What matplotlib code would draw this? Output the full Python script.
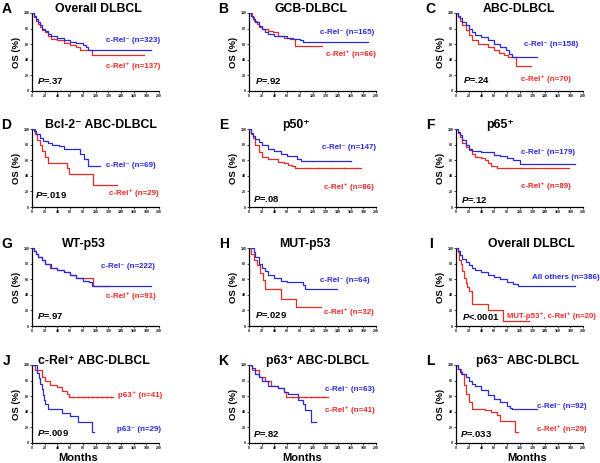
import numpy as np
import matplotlib
matplotlib.use('Agg')
import matplotlib.pyplot as plt

plt.rcParams['font.family'] = ['Liberation Sans', 'DejaVu Sans']
plt.rcParams['font.weight'] = 'bold'
plt.rcParams['mathtext.fontset'] = 'custom'
plt.rcParams['mathtext.it'] = 'Liberation Sans:italic:bold'
plt.rcParams['mathtext.rm'] = 'Liberation Sans:bold'

BLUE = '#2a2ad6'
RED = '#e62a25'

# ---- Kaplan-Meier step data (months, OS %) ----
A_neg_t = [0, 3, 6, 9, 12, 16, 20, 25, 30, 40, 50, 60, 70, 80, 85, 88, 187]
A_neg_s = [100, 96, 92, 88, 84, 80, 77, 73, 71, 68, 65, 63, 62, 59, 56, 53, 53]
A_pos_t = [0, 3, 6, 9, 12, 16, 20, 25, 30, 40, 50, 60, 70, 75, 95, 176]
A_pos_s = [100, 95, 90, 86, 82, 78, 75, 70, 67, 65, 62, 59, 56, 52, 46, 46]

B_neg_t = [0, 3, 6, 10, 15, 20, 25, 30, 40, 50, 60, 70, 80, 85, 188]
B_neg_s = [100, 96, 92, 88, 83, 79, 76, 73, 71, 70, 68, 67, 65, 63, 63]
B_pos_t = [0, 4, 8, 12, 16, 20, 30, 38, 45, 55, 65, 72, 115]
B_pos_s = [100, 95, 90, 86, 82, 80, 77, 75, 71, 68, 67, 58, 58]

C_neg_t = [0, 3, 6, 10, 15, 20, 25, 30, 40, 50, 60, 70, 78, 83, 88, 128]
C_neg_s = [100, 96, 93, 89, 84, 80, 76, 72, 69, 65, 60, 57, 53, 48, 43, 43]
C_pos_t = [0, 3, 6, 10, 15, 20, 25, 35, 50, 60, 68, 75, 82, 95, 118]
C_pos_s = [100, 95, 90, 85, 78, 72, 66, 60, 57, 52, 49, 46, 43, 32, 32]

D_neg_t = [0, 3, 7, 12, 18, 25, 32, 42, 50, 72, 76, 82, 88, 107]
D_neg_s = [100, 97, 93, 89, 85, 82, 80, 78, 75, 75, 68, 61, 53, 53]
D_pos_t = [0, 4, 8, 12, 16, 20, 25, 50, 55, 58, 96, 134]
D_pos_s = [100, 93, 86, 79, 72, 64, 57, 57, 50, 42, 28, 28]

E_neg_t = [0, 3, 6, 10, 15, 20, 30, 40, 50, 60, 70, 75, 82, 160]
E_neg_s = [100, 95, 91, 87, 83, 80, 75, 72, 68, 66, 65, 62, 59, 59]
E_pos_t = [0, 3, 6, 10, 15, 20, 30, 45, 55, 62, 68, 73, 177]
E_pos_s = [100, 94, 88, 79, 70, 64, 61, 58, 56, 54, 52, 50, 50]

F_neg_t = [0, 3, 6, 10, 15, 20, 25, 40, 60, 70, 80, 90, 100, 188]
F_neg_s = [100, 96, 92, 86, 80, 75, 72, 70, 67, 66, 63, 60, 55, 55]
F_pos_t = [0, 3, 6, 10, 15, 20, 25, 30, 40, 45, 50, 55, 65, 178]
F_pos_s = [100, 95, 90, 82, 77, 73, 68, 64, 63, 60, 56, 53, 50, 50]

G_neg_t = [0, 3, 6, 10, 15, 20, 30, 40, 50, 60, 70, 80, 90, 95, 187]
G_neg_s = [100, 96, 92, 88, 84, 80, 75, 72, 69, 66, 62, 58, 56, 51, 51]
G_pos_t = [0, 3, 6, 10, 15, 20, 28, 40, 50, 60, 70, 96, 120]
G_pos_s = [100, 96, 92, 88, 84, 80, 74, 72, 69, 65, 61, 51, 51]

H_neg_t = [0, 6, 8, 10, 15, 20, 25, 30, 40, 50, 60, 85, 88, 138]
H_neg_s = [100, 100, 95, 88, 80, 75, 70, 65, 61, 58, 56, 53, 47, 47]
H_pos_t = [0, 3, 8, 12, 18, 22, 25, 50, 74, 113]
H_pos_s = [100, 92, 85, 78, 68, 59, 47, 35, 24, 24]

I_neg_t = [0, 3, 6, 10, 15, 20, 25, 30, 40, 50, 60, 70, 80, 90, 98, 187]
I_neg_s = [100, 96, 91, 86, 82, 78, 75, 72, 69, 66, 63, 60, 57, 54, 51, 51]
I_pos_t = [0, 3, 5, 8, 10, 12, 15, 18, 20, 25, 50, 74, 115]
I_pos_s = [100, 95, 85, 80, 70, 62, 55, 50, 45, 28, 21, 7, 7]

J_pos_t = [0, 5, 15, 20, 28, 40, 48, 55, 58, 128]
J_pos_s = [100, 93, 85, 80, 75, 72, 67, 63, 59, 59]
J_neg_t = [0, 8, 11, 13, 15, 17, 19, 21, 25, 48, 60, 72, 95, 98]
J_neg_s = [100, 90, 83, 76, 69, 62, 55, 50, 43, 38, 35, 27, 14, 14]

K_neg_t = [0, 5, 10, 15, 20, 30, 45, 55, 62, 77, 85, 88, 98, 105]
K_neg_s = [100, 96, 88, 84, 80, 73, 70, 66, 63, 55, 50, 42, 27, 27]
K_pos_t = [0, 5, 15, 25, 35, 45, 55, 58, 125]
K_pos_s = [100, 93, 85, 80, 73, 70, 66, 59, 59]

L_neg_t = [0, 3, 6, 10, 15, 20, 25, 30, 40, 50, 60, 70, 80, 85, 88, 128]
L_neg_s = [100, 95, 91, 88, 84, 80, 76, 73, 68, 62, 56, 53, 48, 45, 43, 43]
L_pos_t = [0, 3, 8, 12, 15, 20, 25, 45, 55, 65, 70, 93, 98]
L_pos_s = [100, 95, 88, 75, 63, 52, 43, 42, 40, 36, 28, 14, 14]

# censored observations (months) on plateaus
J_pos_cens = [65, 72, 80, 88, 95, 102, 110, 118, 124]
K_pos_cens = [68, 78, 88, 98, 108, 118]
E_pos_cens = [90, 110, 130, 150, 170]
F_pos_cens = [80, 100, 120, 140, 160]

letters = list('ABCDEFGHIJKL')
titles = ['Overall DLBCL', 'GCB-DLBCL', 'ABC-DLBCL',
          'Bcl-2\u207b ABC-DLBCL', 'p50\u207a', 'p65\u207a',
          'WT-p53', 'MUT-p53', 'Overall DLBCL',
          'c-Rel\u207a ABC-DLBCL', 'p63\u207a ABC-DLBCL', 'p63\u207b ABC-DLBCL']
blue_labels = ['c-Rel\u207b (n=323)', 'c-Rel\u207b (n=165)', 'c-Rel\u207b (n=158)',
               'c-Rel\u207b (n=69)', 'c-Rel\u207b (n=147)', 'c-Rel\u207b (n=179)',
               'c-Rel\u207b (n=222)', 'c-Rel\u207b (n=64)', 'All others (n=386)',
               'p63\u207b (n=29)', 'c-Rel\u207b (n=63)', 'c-Rel\u207b (n=92)']
red_labels = ['c-Rel\u207a (n=137)', 'c-Rel\u207a (n=66)', 'c-Rel\u207a (n=70)',
              'c-Rel\u207a (n=29)', 'c-Rel\u207a (n=86)', 'c-Rel\u207a (n=89)',
              'c-Rel\u207a (n=91)', 'c-Rel\u207a (n=32)', 'MUT-p53\u207a, c-Rel\u207a (n=20)',
              'p63\u207a (n=41)', 'c-Rel\u207a (n=41)', 'c-Rel\u207a (n=29)']
p_values = ['=.37', '=.92', '=.24', '=.019', '=.08', '=.12',
            '=.97', '=.029', '<.0001', '=.009', '=.82', '=.033']

blue_curves = [(A_neg_t, A_neg_s), (B_neg_t, B_neg_s), (C_neg_t, C_neg_s),
               (D_neg_t, D_neg_s), (E_neg_t, E_neg_s), (F_neg_t, F_neg_s),
               (G_neg_t, G_neg_s), (H_neg_t, H_neg_s), (I_neg_t, I_neg_s),
               (J_neg_t, J_neg_s), (K_neg_t, K_neg_s), (L_neg_t, L_neg_s)]
red_curves = [(A_pos_t, A_pos_s), (B_pos_t, B_pos_s), (C_pos_t, C_pos_s),
              (D_pos_t, D_pos_s), (E_pos_t, E_pos_s), (F_pos_t, F_pos_s),
              (G_pos_t, G_pos_s), (H_pos_t, H_pos_s), (I_pos_t, I_pos_s),
              (J_pos_t, J_pos_s), (K_pos_t, K_pos_s), (L_pos_t, L_pos_s)]
red_cens = {4: E_pos_cens, 5: F_pos_cens, 9: J_pos_cens, 10: K_pos_cens}

# ---- layout (pixels) ----
W_PX, H_PX = 600, 463
lefts = [32, 249, 456]
tops = [13, 129, 248, 365]
ax_w, ax_h = 127, 78

# text positions in data coords: (blue x, blue y, red x, red y, P x, P y, title x)
text_pos = [(116, 65, 116, 32, 8, 13, 104),
            (112, 75, 121, 47, 10, 13, 98),
            (107, 60, 102, 15, 11, 14, 99),
            (117, 53, 122, 18, 5, 16, 109),
            (115, 76, 118, 26, 7, 10, 74),
            (102, 70, 102, 27, 8, 9, 69),
            (109, 76, 117, 38, 8, 13, 82),
            (112, 58, 118, 18, 9, 14, 88),
            (120, 62, 80, 13, 9, 12, 119),
            (134, 17, 135, 61, 8, 13, 98),
            (119, 68, 119, 42, 7, 12, 108),
            (127, 47, 127, 18, 6, 11, 112)]
months_x = [0.36, 0.42, 0.56]


def km_value(t, s, c):
    i = np.searchsorted(t, c, side='right') - 1
    return s[i]


fig = plt.figure(figsize=(W_PX / 100, H_PX / 100), dpi=100)

for k in range(12):
    r, col = divmod(k, 3)
    L = lefts[col]
    T = tops[r]
    ax = fig.add_axes([L / W_PX, 1 - (T + ax_h) / H_PX, ax_w / W_PX, ax_h / H_PX])

    bt, bs = blue_curves[k]
    rt, rs = red_curves[k]
    ax.step(bt, bs, where='post', color=BLUE, lw=0.9, zorder=3)
    ax.step(rt, rs, where='post', color=RED, lw=0.9, zorder=2)
    if k in red_cens:
        cy = [km_value(np.array(rt), np.array(rs), c) for c in red_cens[k]]
        ax.plot(red_cens[k], cy, ls='none', marker='|', ms=2, mew=0.5, color=RED)

    ax.set_xlim(0, 200)
    ax.set_ylim(0, 100)
    ax.set_xticks(np.arange(0, 201, 20))
    ax.set_yticks(np.arange(0, 101, 20))
    ax.tick_params(labelsize=2.5, length=1.2, width=0.5, pad=0.8, direction='out')
    for sp in ['top', 'right']:
        ax.spines[sp].set_visible(False)
    for sp in ['left', 'bottom']:
        ax.spines[sp].set_linewidth(0.9)

    ax.set_ylabel('OS (%)', fontsize=6.8, fontweight='bold')
    ax.yaxis.set_label_coords(-0.09, 0.5)

    bx, by, rx, ry, px, py, tx = text_pos[k]
    ax.text(bx, by, blue_labels[k], color=BLUE, fontsize=5.8, fontweight='bold',
            va='center', ha='left', clip_on=False)
    ax.text(rx, ry, red_labels[k], color=RED, fontsize=5.6 if k == 8 else 5.8,
            fontweight='bold', va='center', ha='left', clip_on=False)
    ax.text(px, py, r'$P$' + p_values[k], fontsize=6.8, fontweight='bold',
            va='center', ha='left')
    ax.text(tx, 105, titles[k], fontsize=8.8, fontweight='bold', ha='center',
            va='center', clip_on=False)
    ax.text(-0.2, 1.05, letters[k], transform=ax.transAxes, fontsize=10,
            fontweight='bold', ha='center', va='center')

    if r == 3:
        ax.text(months_x[col], -0.19, 'Months', transform=ax.transAxes,
                fontsize=8, fontweight='bold', ha='center', va='center')

fig.savefig('out.png', dpi=100)
